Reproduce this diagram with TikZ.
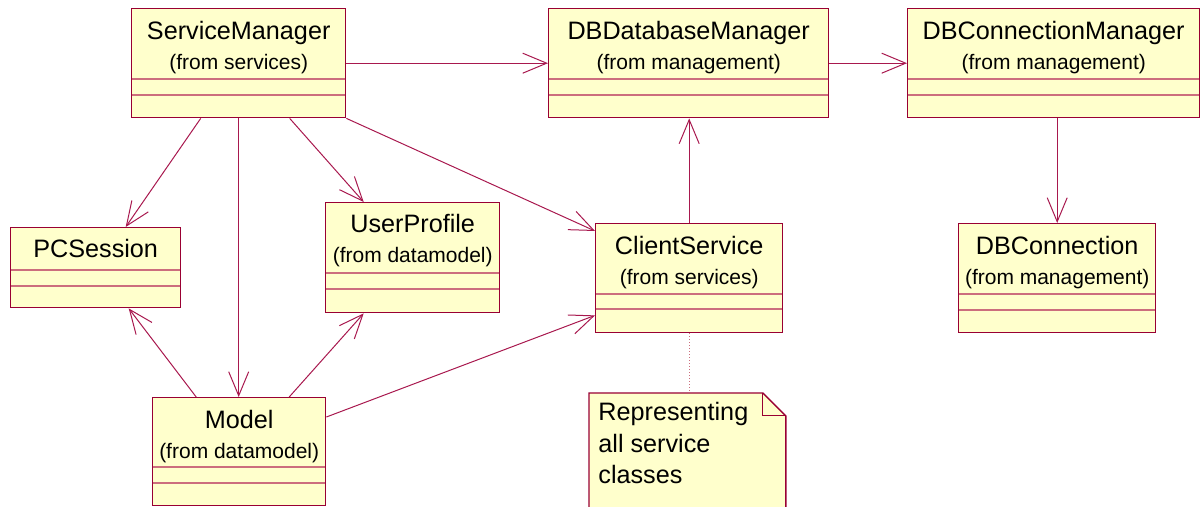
\documentclass[tikz,border=0pt]{standalone}
\usepackage{fontspec}
\setmainfont{Liberation Sans}
\usetikzlibrary{arrows.meta, calc, positioning}
\definecolor{umlfill}{RGB}{255,255,204}
\definecolor{umlline}{RGB}{153,0,51}
\definecolor{umlsep}{RGB}{204,110,125}
\definecolor{umlarrow}{RGB}{168,24,78}
\tikzset{
  classbox/.style={draw=umlline, fill=umlfill, line width=0.7pt, anchor=north west, inner sep=0pt},
  classname/.style={anchor=base, inner sep=0pt, font=\fontsize{12.6}{15}\selectfont},
  classfrom/.style={anchor=base, inner sep=0pt, font=\fontsize{10.5}{12}\selectfont},
  sepline/.style={draw=umlsep, line width=0.6pt},
  assoc/.style={draw=umlarrow, line width=0.5pt, -{Straight Barb[length=12pt,width=10pt]}},
}
\begin{document}
\begin{tikzpicture}[x=0.5pt, y=-0.5pt]
  \useasboundingbox (0,0) rectangle (1201,507);

  % classes
  \node[classbox, minimum width=107pt, minimum height=54.5pt] (SM) at (131,8) {};
  \node[classbox, minimum width=140pt, minimum height=54.5pt] (DBM) at (548,8) {};
  \node[classbox, minimum width=146pt, minimum height=54.5pt] (DBCM) at (907,8) {};
  \node[classbox, minimum width=85pt, minimum height=40pt] (PCS) at (10,227) {};
  \node[classbox, minimum width=87pt, minimum height=55pt] (UP) at (325,202) {};
  \node[classbox, minimum width=86.5pt, minimum height=54pt] (MOD) at (152,397) {};
  \node[classbox, minimum width=93.5pt, minimum height=54.5pt] (CS) at (595,223) {};
  \node[classbox, minimum width=98.5pt, minimum height=54.5pt] (DBC) at (958,223) {};

  % compartments
  \foreach \b/\p/\q in {SM/71/87, DBM/71/87, DBCM/71/87, PCS/43/59,
                        UP/71/87, MOD/70/86, CS/71/86, DBC/71/87}{
    \draw[sepline] ($(\b.north west)+(1,\p)$) -- ($(\b.north east)+(-1,\p)$);
    \draw[sepline] ($(\b.north west)+(1,\q)$) -- ($(\b.north east)+(-1,\q)$);
  }

  % names
  \node[classname] (SMn) at ($(SM.north)+(0,32)$) {ServiceManager};
  \node[classfrom] (SMf) at ($(SM.north)+(0,62)$) {(from services)};
  \node[classname] (DBMn) at ($(DBM.north)+(0,32)$) {DBDatabaseManager};
  \node[classfrom] (DBMf) at ($(DBM.north)+(0,62)$) {(from management)};
  \node[classname] (DBCMn) at ($(DBCM.north)+(0,32)$) {DBConnectionManager};
  \node[classfrom] (DBCMf) at ($(DBCM.north)+(0,62)$) {(from management)};
  \node[classname] (PCSn) at ($(PCS.north)+(0,31)$) {PCSession};
  \node[classname] (UPn) at ($(UP.north)+(0,31)$) {UserProfile};
  \node[classfrom] (UPf) at ($(UP.north)+(0,61)$) {(from datamodel)};
  \node[classname] (MODn) at ($(MOD.north)+(0,32)$) {Model};
  \node[classfrom] (MODf) at ($(MOD.north)+(0,62)$) {(from datamodel)};
  \node[classname] (CSn) at ($(CS.north)+(0,32)$) {ClientService};
  \node[classfrom] (CSf) at ($(CS.north)+(0,62)$) {(from services)};
  \node[classname] (DBCn) at ($(DBC.north)+(0,32)$) {DBConnection};
  \node[classfrom] (DBCf) at ($(DBC.north)+(0,62)$) {(from management)};

  % note
  \node[anchor=north west, inner sep=0pt, minimum width=98pt, minimum height=57pt] (note) at (589,393) {};
  \fill[umlfill] (note.south west) -- (note.north west) -- ($(note.north east)+(-23,0)$)
    -- ($(note.north east)+(0,23)$) -- (note.south east) -- cycle;
  \draw[umlline, line width=0.7pt] (note.south west) -- (note.north west) -- ($(note.north east)+(-23,0)$)
    -- ($(note.north east)+(0,23)$) -- (note.south east);
  \draw[umlline, line width=0.5pt] ($(note.north east)+(-23,0)$) |- ($(note.north east)+(0,23)$);
  \node[anchor=north west, inner sep=0pt, align=left, font=\fontsize{12.6}{15.75}\selectfont]
    (notet) at ($(note.north west)+(9,9)$) {Representing\\all service\\classes};
  \draw[umlsep, line width=0.5pt, densely dotted] (CS.south) -- (CS.south |- note.north);

  % associations
  \draw[assoc] (SM.east) -- (SM.east -| DBM.west);
  \draw[assoc] (DBM.east) -- (DBM.east -| DBCM.west);
  \draw[assoc] (DBC.north |- DBCM.south) -- (DBC.north);
  \draw[assoc] (CS.north) -- (CS.north |- DBM.south);
  \draw[assoc] ($(SM.south)+(-38,0)$) -- ($(PCS.north)+(30,0)$);
  \draw[assoc] (SM.south) -- (SM.south |- MOD.north);
  \draw[assoc] ($(SM.south)+(51,0)$) -- ($(UP.north)+(-49,0)$);
  \draw[assoc] (SM.south east) -- ($(CS.north west)+(0,8)$);
  \draw[assoc] ($(MOD.north)+(-43,0)$) -- ($(PCS.south)+(33,0)$);
  \draw[assoc] ($(MOD.north)+(50,0)$) -- ($(UP.south)+(-49,0)$);
  \draw[assoc] ($(MOD.north east)+(0,20)$) -- ($(CS.south west)+(0,-18)$);
\end{tikzpicture}
\end{document}
